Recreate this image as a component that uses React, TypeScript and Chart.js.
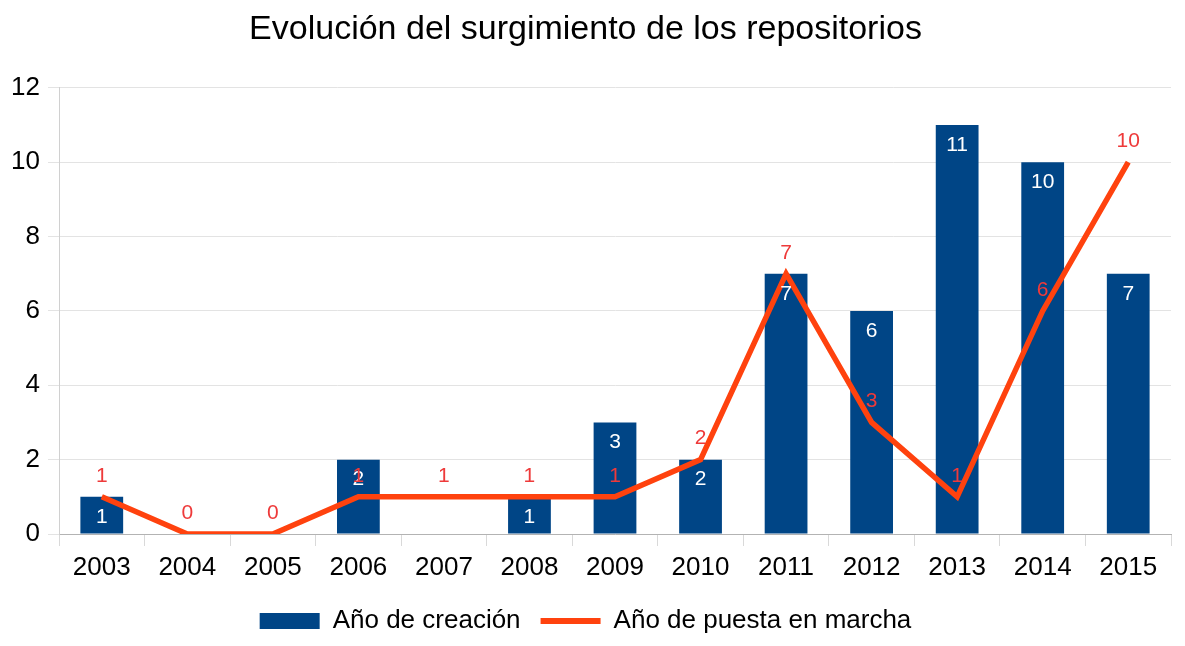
import React, { useEffect, useRef } from "react";
import { Chart, registerables } from "chart.js";

Chart.register(...registerables);

const years = ["2003", "2004", "2005", "2006", "2007", "2008", "2009", "2010", "2011", "2012", "2013", "2014", "2015"];
const creacion = [1, 0, 0, 2, 0, 1, 3, 2, 7, 6, 11, 10, 7];
const puesta = [1, 0, 0, 1, 1, 1, 1, 2, 7, 3, 1, 6, 10];
const yTicks = [0, 2, 4, 6, 8, 10, 12];

const BAR_COLOR = "#004586";
const LINE_COLOR = "#ff420e";
const LABEL_RED = "#ee3a3a";
const FONT = "'Liberation Sans', Arial, sans-serif";

const labelPlugin = {
  id: "valueLabels",
  afterDatasetsDraw(chart: any) {
    const ctx = chart.ctx;
    ctx.save();
    ctx.font = `21px ${FONT}`;
    ctx.textAlign = "center";
    ctx.textBaseline = "middle";
    const barMeta = chart.getDatasetMeta(0);
    barMeta.data.forEach((el: any, i: number) => {
      const v = creacion[i];
      if (!v) return;
      ctx.fillStyle = "#ffffff";
      ctx.fillText(String(v), el.x, el.y + 20);
    });
    const lineMeta = chart.getDatasetMeta(1);
    lineMeta.data.forEach((el: any, i: number) => {
      const v = puesta[i];
      ctx.fillStyle = LABEL_RED;
      ctx.fillText(String(v), el.x, el.y - 21);
    });
    ctx.restore();
  },
};

export default function App() {
  const ref = useRef<HTMLCanvasElement>(null);
  useEffect(() => {
    document.body.style.margin = "0";
    const chart = new Chart(ref.current!, {
      type: "bar",
      data: {
        labels: years,
        datasets: [
          {
            type: "bar",
            label: "Año de creación",
            data: creacion,
            backgroundColor: BAR_COLOR,
            borderWidth: 0,
            barPercentage: 1,
            categoryPercentage: 0.5,
            order: 2,
          },
          {
            type: "line",
            label: "Año de puesta en marcha",
            data: puesta,
            borderColor: LINE_COLOR,
            backgroundColor: LINE_COLOR,
            borderWidth: 5.5,
            pointRadius: 0,
            tension: 0,
            order: 1,
          } as any,
        ],
      },
      options: {
        responsive: false,
        animation: false,
        layout: { padding: { left: 0, right: 14, top: 0, bottom: 2 } },
        plugins: {
          title: {
            display: true,
            text: "Evolución del surgimiento de los repositorios",
            color: "#000",
            font: { family: FONT, size: 34, weight: "normal" },
            padding: { top: 9, bottom: 38 },
          },
          legend: {
            position: "bottom",
            labels: {
              color: "#000",
              font: { family: FONT, size: 26 },
              usePointStyle: true,
              pointStyleWidth: 60,
              boxHeight: 16,
              padding: 20,
              generateLabels: () => [
                {
                  text: "Año de creación",
                  fillStyle: BAR_COLOR,
                  strokeStyle: BAR_COLOR,
                  lineWidth: 0,
                  pointStyle: "rect",
                  datasetIndex: 0,
                  fontColor: "#000",
                } as any,
                {
                  text: "Año de puesta en marcha",
                  fillStyle: LINE_COLOR,
                  strokeStyle: LINE_COLOR,
                  lineWidth: 6,
                  pointStyle: "line",
                  datasetIndex: 1,
                  fontColor: "#000",
                } as any,
              ],
            },
          },
          tooltip: { enabled: false },
        },
        scales: {
          x: {
            offset: true,
            afterFit: (scale: any) => {
              scale.height = 54;
            },
            grid: {
              offset: true,
              drawOnChartArea: false,
              tickLength: 12,
              color: "#d9d9d9",
            },
            border: { color: "#b3b3b3" },
            ticks: {
              color: "#000",
              font: { family: FONT, size: 26 },
              padding: 6,
              maxRotation: 0,
            },
          },
          y: {
            min: 0,
            max: 12,
            afterBuildTicks: (scale: any) => {
              scale.ticks = yTicks.map((v) => ({ value: v }));
            },
            afterFit: (scale: any) => {
              scale.width = 59;
            },
            grid: { color: "#e3e3e3", tickLength: 11 },
            border: { color: "#d0d0d0" },
            ticks: {
              color: "#000",
              font: { family: FONT, size: 26 },
              padding: 8,
            },
          },
        },
      },
      plugins: [labelPlugin],
    });
    return () => chart.destroy();
  }, []);
  return <canvas ref={ref} width={1185} height={646} />;
}
